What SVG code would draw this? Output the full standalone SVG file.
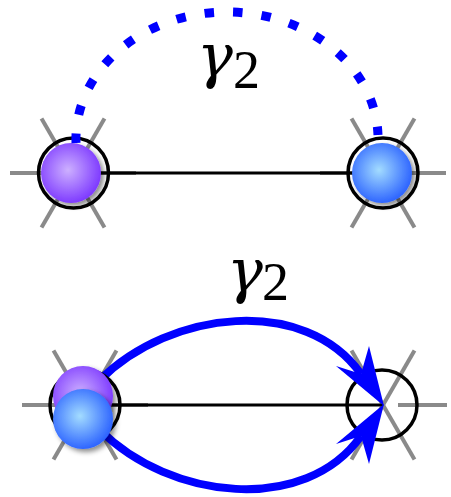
<svg xmlns="http://www.w3.org/2000/svg" width="451" height="497" viewBox="0 0 451 497">
<style>
.star{stroke:#8a8a8a;stroke-width:4;fill:none}
.edge{stroke:#000;stroke-width:3;fill:none}
.ring{stroke:#000;stroke-width:3.5;fill:none}
.arc{stroke:#0000ff;stroke-width:8;fill:none}
.dots{stroke:#0000ff;stroke-width:9;fill:none}
.head{fill:#0000ff;stroke:none}
.g{font-family:"DejaVu Serif","Liberation Serif",serif;font-style:italic;font-size:60px;fill:#000}
.n{font-family:"Liberation Serif","DejaVu Serif",serif;font-size:54px;fill:#000}
</style>
<defs>
<radialGradient id="purple" cx="45%" cy="45%" r="55%">
<stop offset="0" stop-color="#cdb0ff"/>
<stop offset="1" stop-color="#7f3cff"/>
</radialGradient>
<radialGradient id="blue" cx="45%" cy="45%" r="55%">
<stop offset="0" stop-color="#a3dcff"/>
<stop offset="1" stop-color="#2f66ff"/>
</radialGradient>
<filter id="sh" x="-30%" y="-30%" width="170%" height="170%">
<feDropShadow dx="3" dy="3" stdDeviation="2.5" flood-color="#000" flood-opacity="0.45"/>
</filter>
</defs>

<g id="node-top-left">
<line class="star" x1="10" y1="173" x2="136" y2="173"/>
<line class="star" x1="41.5" y1="118.4" x2="104.5" y2="227.6"/>
<line class="star" x1="104.5" y1="118.4" x2="41.5" y2="227.6"/>
</g>
<g id="node-top-right">
<line class="star" x1="320" y1="173" x2="446" y2="173"/>
<line class="star" x1="351.5" y1="118.4" x2="414.5" y2="227.6"/>
<line class="star" x1="414.5" y1="118.4" x2="351.5" y2="227.6"/>
</g>
<g id="node-bottom-left-star">
<line class="star" x1="22" y1="405" x2="148" y2="405"/>
<line class="star" x1="53.5" y1="350.4" x2="116.5" y2="459.6"/>
<line class="star" x1="116.5" y1="350.4" x2="53.5" y2="459.6"/>
</g>
<g id="node-bottom-right-star">
<line class="star" x1="398" y1="405" x2="447" y2="405"/>
<line class="star" x1="351.5" y1="350.4" x2="414.5" y2="459.6"/>
<line class="star" x1="414.5" y1="350.4" x2="351.5" y2="459.6"/>
</g>

<g id="connectors">
<line class="edge" x1="73" y1="173" x2="383" y2="173"/>
<line class="edge" x1="85" y1="405" x2="383" y2="405"/>
<path class="arc" d="M100,380 C170,310 305,295 361,374"/>
<path class="arc" d="M100,430 C170,500 305,515 361,436"/>
</g>

<g id="node-top-left-ball">
<circle class="ring" cx="73.5" cy="173" r="35"/>
<circle cx="71" cy="173" r="30" fill="url(#purple)" filter="url(#sh)"/>
</g>
<g id="node-top-right-ball">
<circle class="ring" cx="383" cy="173" r="35"/>
<circle cx="382" cy="173" r="30" fill="url(#blue)" filter="url(#sh)"/>
</g>
<g id="node-bottom-left">
<circle class="ring" cx="85" cy="405" r="35"/>
<circle cx="83" cy="396" r="30" fill="url(#purple)" filter="url(#sh)"/>
<circle cx="83" cy="419" r="30" fill="url(#blue)" filter="url(#sh)"/>
</g>
<g id="node-bottom-right">
<circle class="ring" cx="382" cy="405" r="35"/>
</g>

<g id="arrows">
<path class="dots" d="M76,143 A151,127 0 0 1 378,135" stroke-dasharray="9.5 19.1"/>
<path class="head" d="M384,406 L369,346 L361,374 L336,366 Z"/>
<path class="head" d="M384,404 L369,464 L361,436 L336,444 Z"/>
</g>

<g id="labels">
<text class="g" x="197" y="77">γ</text>
<text class="n" x="233" y="88">2</text>
<text class="g" x="227" y="292">γ</text>
<text class="n" x="262" y="300">2</text>
</g>
</svg>
